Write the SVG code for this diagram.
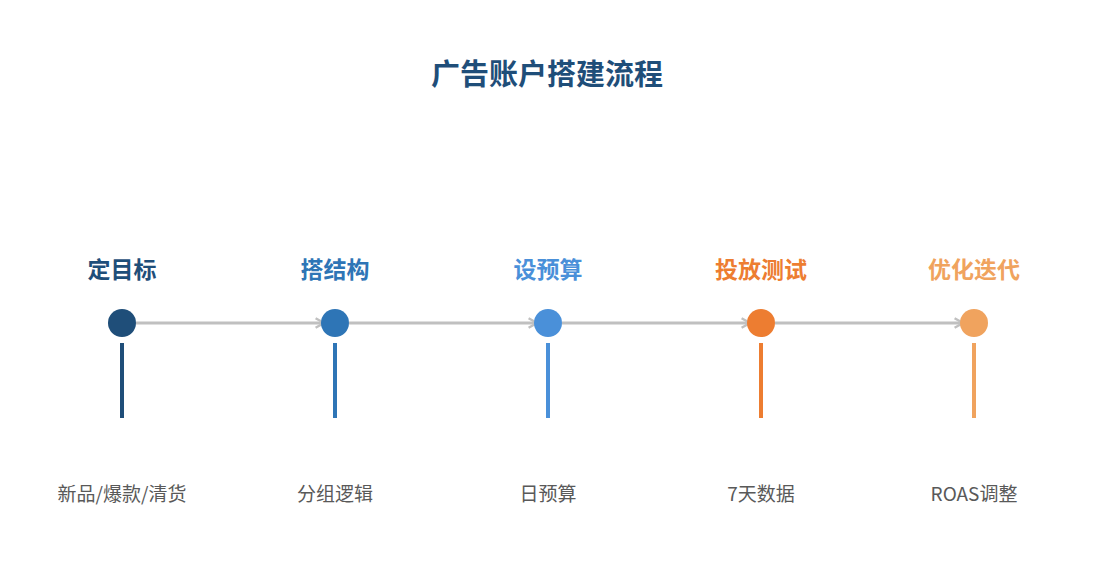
<svg xmlns="http://www.w3.org/2000/svg" width="1095" height="585" viewBox="0 0 1095 585">
<defs>
<style>
.t{font-family:"Noto Sans CJK SC","Noto Sans",sans-serif;text-anchor:middle}
.title{font-size:29px;font-weight:bold;fill:#1f4e79}
.h{font-size:23px;font-weight:bold}
.d{font-size:19px;fill:#595959}
.conn{stroke:#c0c0c0;stroke-width:3;fill:none}
.stem{stroke-width:4}
</style>
<marker id="arr" viewBox="0 0 10 10" refX="8" refY="5" markerWidth="4" markerHeight="4" orient="auto" markerUnits="strokeWidth">
<path d="M1,1 L8,5 L1,9" fill="none" stroke="#c0c0c0" stroke-width="2"/>
</marker>
</defs>
<rect width="1095" height="585" fill="#ffffff"/>
<text class="t title" x="547" y="85">广告账户搭建流程</text>
<g id="connectors">
<line class="conn" x1="136" y1="323" x2="324" y2="323" marker-end="url(#arr)"/>
<line class="conn" x1="349" y1="323" x2="537" y2="323" marker-end="url(#arr)"/>
<line class="conn" x1="562" y1="323" x2="750" y2="323" marker-end="url(#arr)"/>
<line class="conn" x1="775" y1="323" x2="963" y2="323" marker-end="url(#arr)"/>
</g>
<g id="node1">
<text class="t h" x="122" y="278" fill="#1f4e79">定目标</text>
<circle cx="122" cy="323" r="14" fill="#1f4e79"/>
<line class="stem" x1="122" y1="343" x2="122" y2="418" stroke="#1f4e79"/>
<text class="t d" x="122" y="501">新品/爆款/清货</text>
</g>
<g id="node2">
<text class="t h" x="335" y="278" fill="#2e75b6">搭结构</text>
<circle cx="335" cy="323" r="14" fill="#2e75b6"/>
<line class="stem" x1="335" y1="343" x2="335" y2="418" stroke="#2e75b6"/>
<text class="t d" x="335" y="501">分组逻辑</text>
</g>
<g id="node3">
<text class="t h" x="548" y="278" fill="#4a90d9">设预算</text>
<circle cx="548" cy="323" r="14" fill="#4a90d9"/>
<line class="stem" x1="548" y1="343" x2="548" y2="418" stroke="#4a90d9"/>
<text class="t d" x="548" y="501">日预算</text>
</g>
<g id="node4">
<text class="t h" x="761" y="278" fill="#ed7d31">投放测试</text>
<circle cx="761" cy="323" r="14" fill="#ed7d31"/>
<line class="stem" x1="761" y1="343" x2="761" y2="418" stroke="#ed7d31"/>
<text class="t d" x="761" y="501">7天数据</text>
</g>
<g id="node5">
<text class="t h" x="974" y="278" fill="#f0a35e">优化迭代</text>
<circle cx="974" cy="323" r="14" fill="#f0a35e"/>
<line class="stem" x1="974" y1="343" x2="974" y2="418" stroke="#f0a35e"/>
<text class="t d" x="974" y="501">ROAS调整</text>
</g>
</svg>
